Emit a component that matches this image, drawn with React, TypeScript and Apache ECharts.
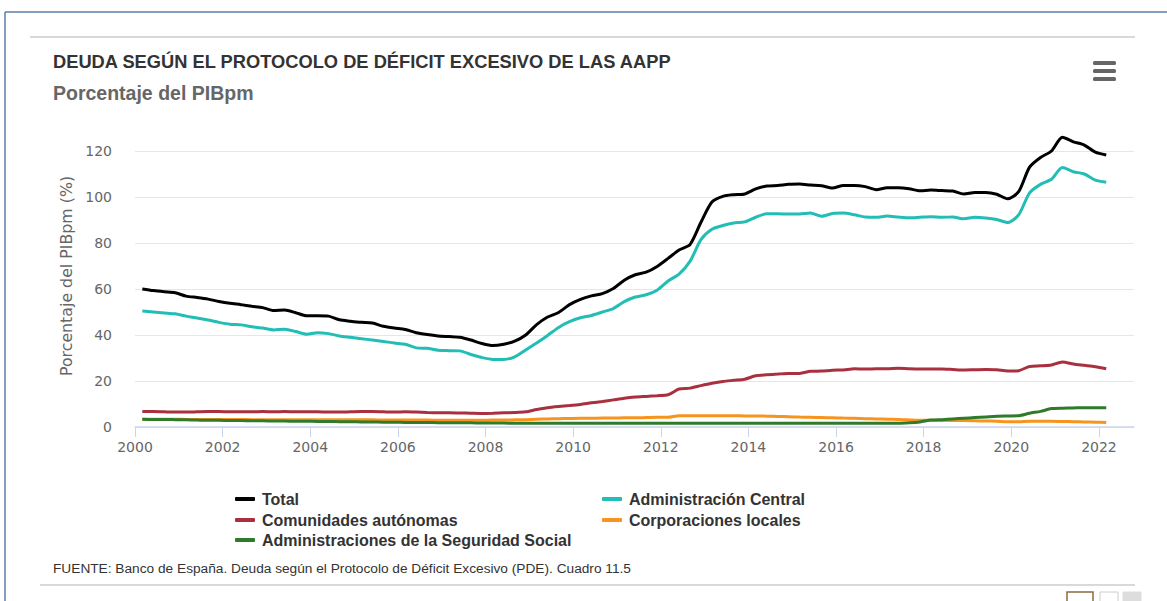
import React, { useEffect, useRef } from "react";
import * as echarts from "echarts";

// Quarterly observations, 2000-T1 .. 2022-T1 (one row per year)
const years: number[] = [2000,2001,2002,2003,2004,2005,2006,2007,2008,2009,2010,2011,2012,2013,2014,2015,2016,2017,2018,2019,2020,2021,2022];

const totalValues: number[] = [
  60.0, 59.3, 58.8, 58.4,
  56.9, 56.3, 55.6, 54.6,
  53.8, 53.2, 52.5, 51.9,
  50.6, 50.9, 49.7, 48.4,
  48.4, 48.2, 46.6, 46.0,
  45.5, 45.2, 43.8, 43.0,
  42.4, 41.0, 40.2, 39.6,
  39.3, 39.0, 37.8, 36.3,
  35.4, 36.0, 37.3, 40.0,
  44.5, 47.8, 49.8, 53.2,
  55.5, 57.0, 58.0, 60.2,
  63.8, 66.2, 67.3, 69.8,
  73.3, 77.0, 79.3, 89.0,
  97.8, 100.3, 101.0, 101.3,
  103.5, 104.8, 105.0, 105.5,
  105.6, 105.2, 104.9, 103.9,
  105.0, 105.0, 104.5, 103.2,
  104.0, 104.0, 103.6, 102.7,
  103.0, 102.8, 102.6, 101.3,
  102.0, 102.0, 101.2, 99.2,
  102.3, 113.0, 117.2, 120.0,
  126.0, 124.0, 122.6, 119.5,
  118.3,
];

const centralValues: number[] = [
  50.4, 50.0, 49.6, 49.2,
  48.2, 47.4, 46.5, 45.5,
  44.7, 44.4, 43.6, 43.0,
  42.2, 42.5, 41.5, 40.3,
  41.0, 40.6, 39.6, 39.0,
  38.4, 37.8, 37.2, 36.5,
  36.0, 34.4, 34.2, 33.4,
  33.2, 33.1, 31.5, 30.2,
  29.4, 29.4, 30.5, 33.5,
  36.5, 39.8, 43.3, 45.8,
  47.5, 48.5, 50.0, 51.5,
  54.5, 56.5, 57.5, 59.5,
  63.5, 66.5, 72.0, 81.5,
  86.0, 87.6, 88.7, 89.2,
  91.2, 92.7, 92.7, 92.6,
  92.6, 93.0, 91.6, 92.8,
  93.0, 92.3, 91.3, 91.2,
  91.7, 91.3, 91.0, 91.2,
  91.4, 91.2, 91.3, 90.5,
  91.2, 90.9, 90.2, 88.9,
  92.2, 101.8, 105.5, 107.7,
  112.8, 111.0, 110.0, 107.3,
  106.4,
];

const ccaaValues: number[] = [
  6.7, 6.7, 6.6, 6.5,
  6.5, 6.6, 6.7, 6.7,
  6.6, 6.6, 6.6, 6.7,
  6.6, 6.7, 6.6, 6.6,
  6.6, 6.5, 6.5, 6.6,
  6.7, 6.7, 6.6, 6.5,
  6.6, 6.5, 6.3, 6.2,
  6.2, 6.1, 6.0, 5.9,
  6.0, 6.2, 6.3, 6.6,
  7.6, 8.4, 8.9, 9.3,
  9.8, 10.5, 11.1, 11.8,
  12.5, 13.0, 13.3, 13.6,
  14.0, 16.5, 16.9, 18.0,
  19.0, 19.8, 20.3, 20.8,
  22.3, 22.7, 23.0, 23.3,
  23.3, 24.2, 24.3, 24.7,
  24.8, 25.3, 25.2, 25.3,
  25.3, 25.5, 25.3, 25.2,
  25.2, 25.2, 25.0, 24.8,
  24.9, 25.0, 24.9, 24.3,
  24.5, 26.3, 26.6, 27.0,
  28.3, 27.4, 26.8, 26.2,
  25.3,
];

const localValues: number[] = [
  3.4, 3.4, 3.4, 3.4,
  3.3, 3.3, 3.3, 3.3,
  3.3, 3.3, 3.2, 3.2,
  3.2, 3.2, 3.2, 3.1,
  3.1, 3.1, 3.1, 3.1,
  3.1, 3.1, 3.0, 3.0,
  3.0, 3.0, 3.0, 2.9,
  2.9, 2.9, 2.9, 2.9,
  3.0, 3.0, 3.1, 3.2,
  3.4, 3.5, 3.6, 3.7,
  3.8, 3.8, 3.9, 3.9,
  4.0, 4.0, 4.1, 4.2,
  4.2, 4.9, 4.9, 4.9,
  4.9, 4.9, 4.9, 4.8,
  4.8, 4.7, 4.6, 4.5,
  4.3, 4.2, 4.1, 4.0,
  3.9, 3.8, 3.6, 3.5,
  3.4, 3.3, 3.1, 2.9,
  2.9, 2.8, 2.8, 2.8,
  2.7, 2.6, 2.5, 2.3,
  2.3, 2.5, 2.5, 2.5,
  2.4, 2.3, 2.2, 2.1,
  2.0,
];

const ssValues: number[] = [
  3.4, 3.3, 3.3, 3.2,
  3.1, 3.0, 2.9, 2.9,
  2.8, 2.8, 2.7, 2.7,
  2.6, 2.6, 2.5, 2.5,
  2.4, 2.4, 2.3, 2.3,
  2.2, 2.2, 2.1, 2.1,
  2.0, 2.0, 2.0, 1.9,
  1.9, 1.8, 1.8, 1.7,
  1.7, 1.7, 1.6, 1.6,
  1.6, 1.6, 1.6, 1.6,
  1.6, 1.6, 1.6, 1.6,
  1.6, 1.6, 1.6, 1.6,
  1.6, 1.6, 1.6, 1.6,
  1.6, 1.6, 1.6, 1.6,
  1.6, 1.6, 1.6, 1.6,
  1.6, 1.6, 1.6, 1.6,
  1.6, 1.6, 1.6, 1.6,
  1.6, 1.6, 1.8, 2.2,
  3.0, 3.2, 3.5, 3.8,
  4.1, 4.4, 4.7, 4.8,
  4.9, 6.0, 6.8, 8.0,
  8.2, 8.3, 8.4, 8.4,
  8.4,
];

const seriesNames: string[] = [
  "Total",
  "Administración Central",
  "Comunidades autónomas",
  "Corporaciones locales",
  "Administraciones de la Seguridad Social",
];
const seriesColors: string[] = ["#000000", "#22bdb4", "#a8303f", "#f7941d", "#2f7a2b"];
const xTickLabels: number[] = [2000, 2002, 2004, 2006, 2008, 2010, 2012, 2014, 2016, 2018, 2020, 2022];
const yTickLabels: number[] = [0, 20, 40, 60, 80, 100, 120];

const titleText = "DEUDA SEGÚN EL PROTOCOLO DE DÉFICIT EXCESIVO DE LAS AAPP";
const subtitleText = "Porcentaje del PIBpm";
const yAxisTitle = "Porcentaje del PIBpm (%)";
const sourceText = "FUENTE: Banco de España. Deuda según el Protocolo de Déficit Excesivo (PDE). Cuadro 11.5";

// time position of each quarter
function quarterTimes(n: number): number[] {
  const out: number[] = [];
  for (let i = 0; i < n; i++) {
    const y = years[Math.floor(i / 4)];
    const q = i % 4;
    out.push(y + (3 * q + 2) / 12);
  }
  return out;
}

export default function App() {
  const ref = useRef<HTMLDivElement>(null);
  useEffect(() => {
    if (!ref.current) return;
    const chart = echarts.init(ref.current, null, { renderer: "svg" });
    const allValues = [totalValues, centralValues, ccaaValues, localValues, ssValues];
    const sans = "'Liberation Sans', Arial, sans-serif";
    const axisFont = "'DejaVu Sans', Verdana, sans-serif";

    const series = allValues.map((vals, i) => {
      const ts = quarterTimes(vals.length);
      return {
        name: seriesNames[i],
        type: "line",
        data: vals.map((v, k) => [ts[k], v]),
        showSymbol: false,
        symbol: "none",
        smooth: 0.25,
        clip: false,
        lineStyle: { color: seriesColors[i], width: 3 },
        itemStyle: { color: seriesColors[i] },
        emphasis: { disabled: true },
        z: 2 + i,
      };
    });

    const legendPos = [
      { left: 235, top: 491 },
      { left: 602, top: 491 },
      { left: 235, top: 512 },
      { left: 602, top: 512 },
      { left: 235, top: 532 },
    ];
    const legends = seriesNames.map((n, i) => ({
      data: [n],
      left: legendPos[i].left,
      top: legendPos[i].top,
      icon: "roundRect",
      itemWidth: 20,
      itemHeight: 4,
      itemGap: 0,
      padding: 0,
      selectedMode: false,
      textStyle: { fontFamily: sans, fontWeight: "bold", fontSize: 16, color: "#333333", padding: [0, 0, 0, 2] },
    }));

    chart.setOption({
      animation: false,
      backgroundColor: "#ffffff",
      grid: { left: 135, right: 33, top: 151, bottom: 174, containLabel: false },
      xAxis: {
        type: "value",
        min: 2000,
        max: 2022.8,
        interval: 2,
        axisLine: { show: true, lineStyle: { color: "#ccd6eb", width: 1.5 } },
        axisTick: { show: true, length: 10, lineStyle: { color: "#ccd6eb", width: 1 }, customValues: xTickLabels },
        axisLabel: {
          customValues: xTickLabels,
          formatter: (v: number) => String(Math.round(v)),
          fontFamily: axisFont,
          fontSize: 14,
          color: "#666666",
          margin: 13,
        },
        splitLine: { show: false },
      },
      yAxis: {
        type: "value",
        min: 0,
        max: 120,
        interval: 20,
        axisLine: { show: false },
        axisTick: { show: false },
        axisLabel: {
          customValues: yTickLabels,
          fontFamily: axisFont,
          fontSize: 14,
          color: "#666666",
          margin: 23,
        },
        splitLine: { show: true, lineStyle: { color: "#e6e6e6", width: 1 } },
      },
      legend: legends,
      series,
      graphic: [
        { type: "line", shape: { x1: 5, y1: 12, x2: 1167, y2: 12 }, style: { stroke: "#5a7ea8", lineWidth: 1.5 } },
        { type: "line", shape: { x1: 5, y1: 12, x2: 5, y2: 601 }, style: { stroke: "#5a7ea8", lineWidth: 1.5 } },
        { type: "line", shape: { x1: 30, y1: 37, x2: 1135, y2: 37 }, style: { stroke: "#d9d9d9", lineWidth: 2 } },
        { type: "line", shape: { x1: 40, y1: 585, x2: 1135, y2: 585 }, style: { stroke: "#d9d9d9", lineWidth: 2 } },
        {
          type: "text",
          x: 53,
          y: 61,
          style: { text: titleText, font: `bold 18.3px ${sans}`, fill: "#333333", textVerticalAlign: "middle" },
        },
        {
          type: "text",
          x: 53,
          y: 93,
          style: { text: subtitleText, font: `bold 19.5px ${sans}`, fill: "#666666", textVerticalAlign: "middle" },
        },
        {
          type: "text",
          x: 66,
          y: 276,
          rotation: Math.PI / 2,
          style: { text: yAxisTitle, font: `15.8px ${axisFont}`, fill: "#666666", textAlign: "center", textVerticalAlign: "middle" },
        },
        {
          type: "text",
          x: 53,
          y: 568,
          style: { text: sourceText, font: `13.7px ${sans}`, fill: "#333333", textVerticalAlign: "middle" },
        },
        // menu icon
        { type: "rect", shape: { x: 1093, y: 61, width: 23, height: 4, r: 1.5 }, style: { fill: "#666666" } },
        { type: "rect", shape: { x: 1093, y: 69, width: 23, height: 4, r: 1.5 }, style: { fill: "#666666" } },
        { type: "rect", shape: { x: 1093, y: 77, width: 23, height: 4, r: 1.5 }, style: { fill: "#666666" } },
        // pager boxes at bottom right
        { type: "rect", shape: { x: 1067, y: 592, width: 26, height: 12 }, style: { fill: "#ffffff", stroke: "#8b6a3e", lineWidth: 1.5 } },
        { type: "rect", shape: { x: 1100, y: 592, width: 18, height: 12 }, style: { fill: "#ffffff", stroke: "#cccccc", lineWidth: 1 } },
        { type: "rect", shape: { x: 1123, y: 592, width: 18, height: 12 }, style: { fill: "#dddddd", stroke: "#dddddd", lineWidth: 1 } },
      ],
    });
    return () => chart.dispose();
  }, []);

  return (
    <div style={{ position: "fixed", left: 0, top: 0, width: 1167, height: 601, background: "#fff" }}>
      <div ref={ref} style={{ width: 1167, height: 601 }} />
    </div>
  );
}
